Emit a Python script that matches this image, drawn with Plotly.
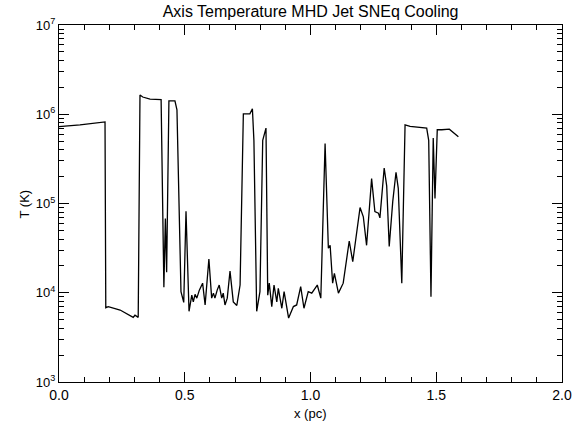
import plotly.graph_objects as go

# position along axis (pc)
x_pc = [0.000, 0.0835, 0.183, 0.186, 0.196, 0.243, 0.295, 0.302, 0.315, 0.322,
        0.333, 0.362, 0.406, 0.417, 0.423, 0.428, 0.437, 0.461, 0.469, 0.485,
        0.496, 0.505, 0.517, 0.528, 0.534, 0.541, 0.548, 0.558, 0.571, 0.581,
        0.596, 0.607, 0.614, 0.620, 0.629, 0.637, 0.647, 0.653, 0.660, 0.669,
        0.680, 0.693, 0.707, 0.720, 0.733, 0.759, 0.769, 0.775, 0.786, 0.799,
        0.810, 0.823, 0.830, 0.836, 0.846, 0.855, 0.866, 0.872, 0.886, 0.895,
        0.913, 0.932, 0.945, 0.961, 0.974, 0.991, 1.005, 1.018, 1.027, 1.041,
        1.058, 1.071, 1.078, 1.088, 1.095, 1.111, 1.130, 1.154, 1.168, 1.197,
        1.210, 1.223, 1.243, 1.256, 1.270, 1.276, 1.293, 1.303, 1.313, 1.327,
        1.340, 1.349, 1.363, 1.376, 1.396, 1.462, 1.470, 1.479, 1.488, 1.495,
        1.504, 1.522, 1.552, 1.588]

# temperature (K)
temp_K = [7.26e5, 7.6e5, 8.2e5, 6.8e3, 7.0e3, 6.4e3, 5.3e3, 5.6e3, 5.3e3, 1.64e6,
          1.56e6, 1.48e6, 1.46e6, 1.15e4, 6.8e4, 1.7e4, 1.41e6, 1.41e6, 1.12e6, 1.03e4,
          7.8e3, 8.2e4, 6.2e3, 9.4e3, 7.9e3, 9.6e3, 8.7e3, 1.07e4, 1.28e4, 7.3e3,
          2.39e4, 8.7e3, 9.9e3, 8.7e3, 1.07e4, 1.22e4, 8.7e3, 9.9e3, 7.3e3, 8.7e3,
          1.75e4, 7.9e3, 7.2e3, 1.22e4, 1.01e6, 1.01e6, 1.15e6, 5.1e5, 6.2e3, 1.03e4,
          5.1e5, 7.0e5, 9.4e3, 1.28e4, 7.0e3, 1.22e4, 7.9e3, 1.12e4, 6.7e3, 1.03e4,
          5.2e3, 7.0e3, 7.3e3, 1.17e4, 6.7e3, 1.03e4, 9.9e3, 1.12e4, 1.22e4, 8.7e3,
          4.7e5, 3.15e4, 3.4e4, 1.28e4, 1.65e4, 9.9e3, 1.28e4, 3.8e4, 2.23e4, 9.0e4,
          7.1e4, 3.4e4, 1.9e5, 8.1e4, 7.8e4, 6.9e4, 2.5e5, 1.57e5, 3.3e4, 1.05e5,
          2.24e5, 1.48e5, 1.28e4, 7.6e5, 7.3e5, 7.0e5, 5.1e5, 9.0e3, 5.4e5, 1.14e5,
          6.7e5, 6.7e5, 6.8e5, 5.6e5]

x_ticks = [0.0, 0.5, 1.0, 1.5, 2.0]
x_ticklabels = ["0.0", "0.5", "1.0", "1.5", "2.0"]
y_ticks = [1e3, 1e4, 1e5, 1e6, 1e7]
y_ticklabels = ["10<sup>3</sup>", "10<sup>4</sup>", "10<sup>5</sup>", "10<sup>6</sup>", "10<sup>7</sup>"]
y_minor = [m * 10 ** e for e in range(3, 7) for m in range(2, 10)]

font = "Liberation Sans"

fig = go.Figure()
fig.add_trace(go.Scatter(x=x_pc, y=temp_K, mode="lines",
                         line=dict(color="black", width=1.3), showlegend=False))

fig.update_layout(
    width=586, height=424,
    margin=dict(l=59, r=24, t=25, b=42, autoexpand=False),
    paper_bgcolor="white", plot_bgcolor="white",
    font=dict(family=font, color="black", size=14),
    title=dict(text="Axis Temperature MHD Jet SNEq Cooling", x=0.53, xanchor="center",
               y=0.972, yanchor="middle", font=dict(size=16, family=font)),
    xaxis=dict(range=[0, 2], tickvals=x_ticks, ticktext=x_ticklabels,
               ticks="inside", ticklen=10, tickwidth=1, tickcolor="black",
               showline=True, linecolor="black", linewidth=1.3, mirror="ticks",
               showgrid=False, zeroline=False, automargin=False,
               minor=dict(ticks="inside", ticklen=5, tickwidth=1, tickcolor="black",
                          dtick=0.1, showgrid=False),
               tickfont=dict(size=14)),
    yaxis=dict(type="log", range=[3, 7], tickvals=y_ticks, ticktext=y_ticklabels,
               ticks="inside", ticklen=10, tickwidth=1, tickcolor="black",
               showline=True, linecolor="black", linewidth=1.3, mirror="ticks",
               showgrid=False, zeroline=False, automargin=False,
               minor=dict(ticks="inside", ticklen=5, tickwidth=1, tickcolor="black",
                          tickvals=y_minor, showgrid=False),
               tickfont=dict(size=13)),
    annotations=[
        dict(text="x (pc)", xref="paper", yref="paper", x=0.5, y=-0.087,
             xanchor="center", yanchor="middle", showarrow=False, font=dict(size=13)),
        dict(text="T (K)", xref="paper", yref="paper", x=-0.0676, y=0.5, textangle=-90,
             xanchor="center", yanchor="middle", showarrow=False, font=dict(size=13)),
    ],
)

fig.write_html("out.html")
